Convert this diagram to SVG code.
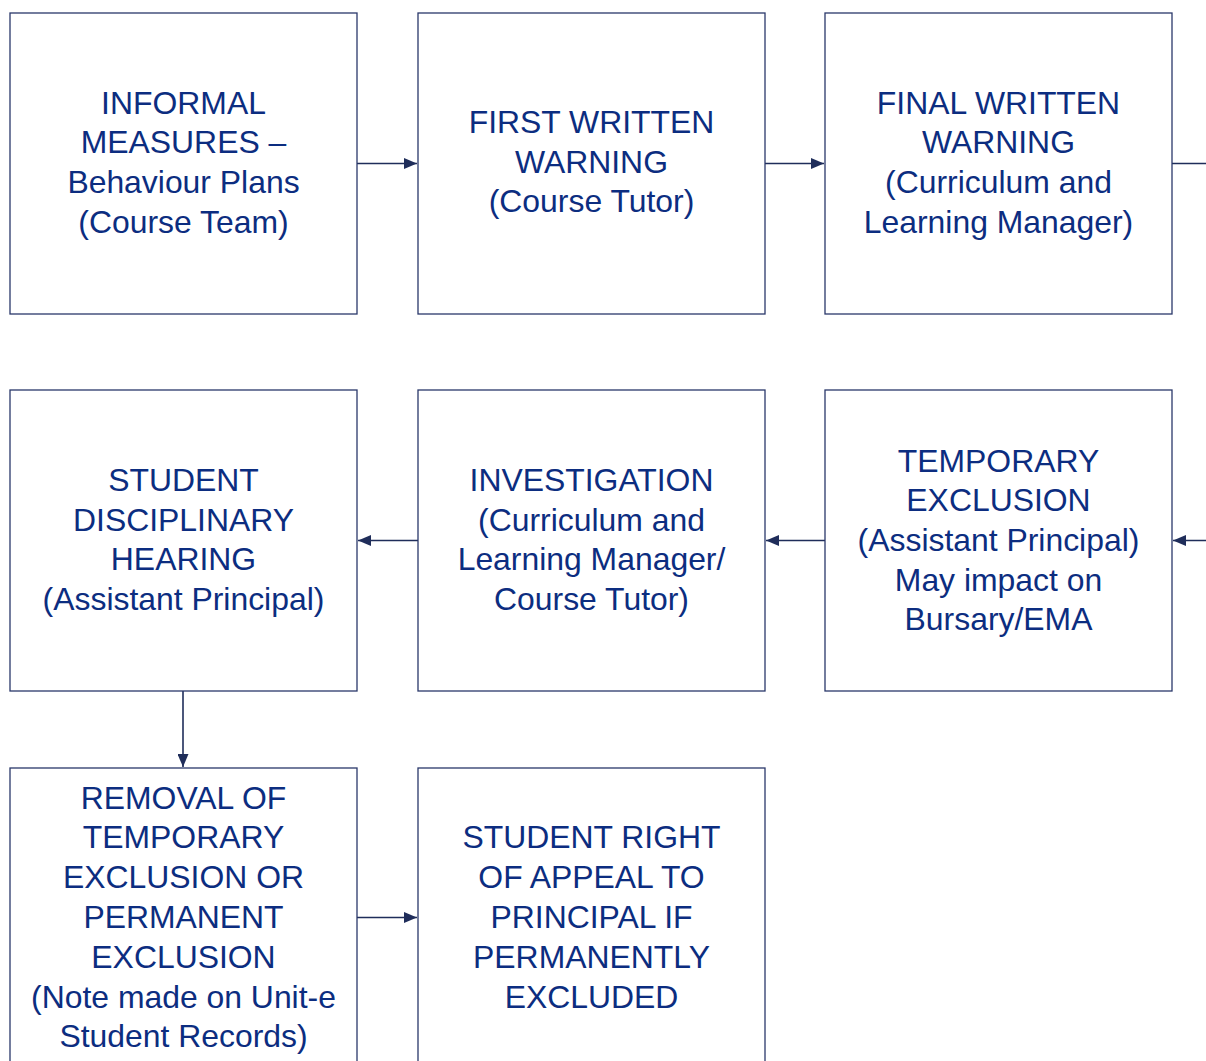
<svg xmlns="http://www.w3.org/2000/svg" width="1206" height="1061" viewBox="0 0 1206 1061">
<style>
.box{fill:#fff;stroke:#2a386a;stroke-width:1.3}
.t{font-family:"Liberation Sans",Arial,sans-serif;font-size:31.9px;fill:#0c2d80;text-anchor:middle}
.c{stroke:#1f2d5a;stroke-width:1.6;fill:none}
</style>
<defs>
<marker id="ah" viewBox="0 0 13 11" refX="13" refY="5.5" markerWidth="13" markerHeight="11" markerUnits="userSpaceOnUse" orient="auto">
<path d="M0,0 L13,5.5 L0,11 z" fill="#1f2d5a"/>
</marker>
</defs>
<rect width="1206" height="1061" fill="#fff"/>
<g id="connectors">
<line class="c" x1="357" y1="163.5" x2="417" y2="163.5" marker-end="url(#ah)"/>
<line class="c" x1="765" y1="163.5" x2="824" y2="163.5" marker-end="url(#ah)"/>
<line class="c" x1="1172" y1="163.5" x2="1206" y2="163.5"/>
<line class="c" x1="1206" y1="540.5" x2="1173" y2="540.5" marker-end="url(#ah)"/>
<line class="c" x1="825" y1="540.5" x2="766" y2="540.5" marker-end="url(#ah)"/>
<line class="c" x1="418" y1="540.5" x2="358" y2="540.5" marker-end="url(#ah)"/>
<line class="c" x1="183" y1="691" x2="183" y2="767" marker-end="url(#ah)"/>
<line class="c" x1="357" y1="917.5" x2="417" y2="917.5" marker-end="url(#ah)"/>
</g>
<g id="n1"><rect class="box" x="10" y="13" width="347" height="301"/>
<text class="t"><tspan x="183.5" y="114">INFORMAL</tspan><tspan x="183.5" y="153">MEASURES –</tspan><tspan x="183.5" y="193">Behaviour Plans</tspan><tspan x="183.5" y="233">(Course Team)</tspan></text></g>
<g id="n2"><rect class="box" x="418" y="13" width="347" height="301"/>
<text class="t"><tspan x="591.5" y="133">FIRST WRITTEN</tspan><tspan x="591.5" y="173">WARNING</tspan><tspan x="591.5" y="212">(Course Tutor)</tspan></text></g>
<g id="n3"><rect class="box" x="825" y="13" width="347" height="301"/>
<text class="t"><tspan x="998.5" y="114">FINAL WRITTEN</tspan><tspan x="998.5" y="153">WARNING</tspan><tspan x="998.5" y="193">(Curriculum and</tspan><tspan x="998.5" y="233">Learning Manager)</tspan></text></g>
<g id="n4"><rect class="box" x="825" y="390" width="347" height="301"/>
<text class="t"><tspan x="998.5" y="472">TEMPORARY</tspan><tspan x="998.5" y="511">EXCLUSION</tspan><tspan x="998.5" y="551">(Assistant Principal)</tspan><tspan x="998.5" y="591">May impact on</tspan><tspan x="998.5" y="630">Bursary/EMA</tspan></text></g>
<g id="n5"><rect class="box" x="418" y="390" width="347" height="301"/>
<text class="t"><tspan x="591.5" y="491">INVESTIGATION</tspan><tspan x="591.5" y="531">(Curriculum and</tspan><tspan x="591.5" y="570">Learning Manager/</tspan><tspan x="591.5" y="610">Course Tutor)</tspan></text></g>
<g id="n6"><rect class="box" x="10" y="390" width="347" height="301"/>
<text class="t"><tspan x="183.5" y="491">STUDENT</tspan><tspan x="183.5" y="531">DISCIPLINARY</tspan><tspan x="183.5" y="570">HEARING</tspan><tspan x="183.5" y="610">(Assistant Principal)</tspan></text></g>
<g id="n7"><rect class="box" x="10" y="768" width="347" height="320"/>
<text class="t"><tspan x="183.5" y="809">REMOVAL OF</tspan><tspan x="183.5" y="848">TEMPORARY</tspan><tspan x="183.5" y="888">EXCLUSION OR</tspan><tspan x="183.5" y="928">PERMANENT</tspan><tspan x="183.5" y="968">EXCLUSION</tspan><tspan x="183.5" y="1008">(Note made on Unit-e</tspan><tspan x="183.5" y="1047">Student Records)</tspan></text></g>
<g id="n8"><rect class="box" x="418" y="768" width="347" height="320"/>
<text class="t"><tspan x="591.5" y="848">STUDENT RIGHT</tspan><tspan x="591.5" y="888">OF APPEAL TO</tspan><tspan x="591.5" y="928">PRINCIPAL IF</tspan><tspan x="591.5" y="968">PERMANENTLY</tspan><tspan x="591.5" y="1008">EXCLUDED</tspan></text></g>
</svg>
